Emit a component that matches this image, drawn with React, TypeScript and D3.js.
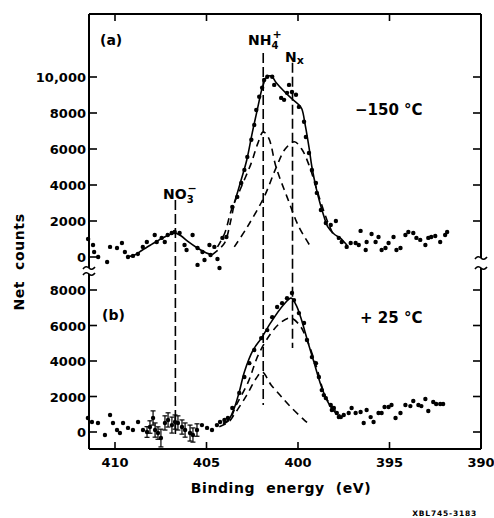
import React, { useEffect } from 'react';
import * as d3 from 'd3';

// binding energy (eV), counts
const energyTicks = [410, 405, 400, 395, 390];
const countTicksA = [0, 2000, 4000, 6000, 8000, 10000];
const countTicksB = [0, 2000, 4000, 6000, 8000];
const countLabel = (v: number) => (v >= 10000 ? '10,000' : String(v));

// panel (a) -150 C
const pointsA = [
  [411.47, 1000], [411.2, 670], [411.14, 280], [410.92, 0], [410.43, -280], [410.27, 560], [409.89, 500],
  [409.62, 780], [409.46, 280], [409.29, 0], [409.02, 60], [408.75, 170], [408.48, 560], [408.26, 830],
  [407.83, 1220], [407.72, 830], [407.45, 1060], [407.28, 830], [407.12, 1220], [406.9, 1330], [406.74, 1390],
  [406.47, 1330], [406.2, 670], [406.09, 390], [405.76, 1220], [405.49, 500], [405.49, -440], [405.22, 280],
  [405.11, -170], [404.78, 110], [404.57, 560], [404.4, -110], [404.29, -610], [404.13, 1060],
  [404.84, 670], [403.91, 1110], [403.59, 2780], [403.32, 3340], [403.1, 4110], [402.93, 4840],
  [402.77, 5560], [402.55, 6510], [402.39, 7340], [402.28, 8170], [402.12, 8900], [401.96, 9400], [401.85, 9840],
  [401.68, 10010], [401.41, 10010], [401.3, 9560], [400.92, 8840], [400.76, 8730], [400.6, 9120], [400.49, 9560],
  [400.33, 9170], [400.11, 9010], [399.95, 8340], [399.67, 7510], [399.57, 6670], [399.4, 5780], [399.24, 4840],
  [399.02, 4110], [398.97, 3560], [398.75, 2610], [398.48, 1890],
  [398.21, 1780], [397.93, 2000], [397.77, 1060], [397.61, 830], [397.34, 560], [397.12, 780], [396.85, 780],
  [396.68, 670], [396.58, 1450], [396.3, 390], [396.25, 830], [395.98, 1280], [395.76, 830], [395.6, 1110],
  [395.43, 390], [395.22, 500], [395.05, 780], [394.78, 1110], [394.62, 390], [394.4, 500], [394.13, 1220],
  [393.97, 1390], [393.7, 1330], [393.53, 1060], [393.32, 950], [393.04, 670], [392.88, 1060], [392.72, 1110],
  [392.5, 1170], [392.23, 830], [391.96, 1220], [391.85, 1390],
];
const no3FitA = [
  [409.35, 0], [408.9, 120], [408.5, 390], [408.0, 700], [407.5, 1000], [407.0, 1250], [406.74, 1330],
  [406.4, 1180], [406.0, 850], [405.5, 500], [405.0, 220], [404.7, 120],
];
const sumGapA = [[404.7, 120], [404.3, 450], [404.0, 800], [403.7, 1900], [403.48, 3000]];
const sumA = [
  [403.48, 3000], [403.1, 4300], [402.8, 5390], [402.5, 6900], [402.2, 8300], [401.95, 9400], [401.7, 10000],
  [401.45, 10050], [401.2, 9700], [400.8, 9250], [400.4, 8850], [400.0, 8500], [399.8, 8250], [399.6, 7300],
  [399.4, 6100], [399.24, 5000], [399.0, 3800], [398.8, 3000], [398.64, 2450], [398.37, 1670], [398.0, 1250],
  [397.7, 1060], [397.28, 600],
];
const nh4A = [
  [404.4, 560], [404.0, 1330], [403.64, 2610], [403.1, 3890], [402.55, 5230], [402.2, 6300], [401.9, 6950],
  [401.6, 6600], [401.2, 5000], [400.6, 3340], [399.95, 1670], [399.3, 560],
];
const nxA = [
  [403.48, 560], [402.77, 1670], [401.85, 3340], [401.2, 4950], [400.7, 6000], [400.2, 6400], [399.8, 6000],
  [399.4, 5110], [398.97, 3730], [398.42, 2060], [398.1, 1300],
];

// panel (b) +25 C, [energy, counts, error]
const pointsB = [
  [411.48, 790, 0], [411.26, 560, 0], [410.93, 510, 0], [410.55, -170, 0], [410.27, 960, 0], [410.11, 510, 0],
  [409.89, 110, 0], [409.73, -60, 0], [409.56, 510, 0], [409.29, 230, 0], [409.02, 110, 0], [408.74, 560, 0],
  [408.47, 110, 0], [408.25, 0, 300], [408.09, 280, 350], [407.92, 790, 400], [407.81, 110, 400], [407.65, -60, 350],
  [407.49, -340, 500], [407.27, 510, 400], [407.1, 680, 400], [406.89, 390, 450], [406.72, 560, 400],
  [406.56, 510, 400], [406.34, 280, 400], [406.17, 110, 400], [405.9, -60, 450], [405.74, -170, 400],
  [405.52, 110, 350], [405.25, 390, 0], [404.97, 230, 0], [404.7, 110, 0], [404.43, 390, 0], [404.26, 560, 0],
  [403.83, 790, 0],
  [404.02, 680, 0], [403.59, 1350, 0], [403.21, 2200, 0], [402.93, 3100, 0], [402.66, 3880, 0], [402.39, 4620, 0],
  [402.01, 5290, 0], [401.68, 5740, 0], [401.41, 6470, 0], [401.14, 7040, 0], [400.87, 7260, 0], [400.6, 7540, 0],
  [400.33, 7830, 0], [400.22, 7430, 0], [399.95, 6700, 0], [399.67, 6140, 0], [399.51, 5180, 0], [399.24, 4220, 0],
  [399.02, 3880, 0], [398.86, 3100, 0], [398.7, 2360, 0], [398.48, 1910, 0], [398.21, 1520, 0], [398.04, 1350, 0],
  [397.88, 1070, 0], [397.66, 840, 0],
  [398.59, 2080, 0], [398.15, 1240, 0], [397.77, 840, 0], [397.5, 960, 0], [397.23, 1070, 0], [397.07, 1350, 0],
  [396.85, 1070, 0], [396.58, 1130, 0], [396.41, 510, 0], [396.25, 1240, 0], [396.03, 840, 0], [395.87, 560, 0],
  [395.6, 1070, 0], [395.43, 1070, 0], [395.27, 1410, 0], [395.05, 1410, 0], [394.89, 1520, 0], [394.67, 790, 0],
  [394.4, 1070, 0], [394.13, 1520, 0], [393.86, 1460, 0], [393.7, 1750, 0], [393.42, 1520, 0], [393.26, 1460, 0],
  [393.04, 1860, 0], [392.88, 1180, 0], [392.61, 1690, 0], [392.45, 1580, 0], [392.23, 1580, 0], [392.07, 1580, 0],
];
const sumB = [
  [404.1, 500], [403.8, 680], [403.5, 1300], [403.2, 2300], [402.93, 3380], [402.45, 4620], [402.0, 5290],
  [401.47, 6190], [400.8, 7150], [400.38, 7540], [400.1, 7150], [399.84, 6420], [399.46, 5070], [399.13, 3940],
  [398.75, 2650], [398.4, 1750], [398.1, 1250], [397.75, 900],
];
const nh4B = [
  [404.3, 300], [403.8, 560], [403.5, 960], [402.8, 2080], [402.3, 3000], [401.96, 3380], [401.47, 2650],
  [401.0, 2100], [400.5, 1520], [399.67, 680], [399.4, 450],
];
const nxB = [
  [404.1, 450], [403.75, 680], [403.37, 1520], [402.72, 2820], [402.17, 4340], [401.47, 5570], [400.9, 6200],
  [400.38, 6420], [399.9, 6000], [399.55, 5300], [399.0, 3700], [398.5, 2000], [397.95, 1200], [397.7, 950],
];

// peak positions: energy, top in (a) counts, bottom in (b) counts
const markers = [
  { id: 'no3', energy: 406.7, topA: 3170, bottomB: -280 },
  { id: 'nh4', energy: 401.9, topA: 11340, bottomB: 1520 },
  { id: 'nx', energy: 400.3, topA: 10790, bottomB: 4730 },
];

const W = 494;
const H = 518;
const left = 89;
const right = 481;
const top = 14;
const bottom = 449;
const font = "'DejaVu Sans', sans-serif";

export default function App() {
  useEffect(() => {
    document.body.style.margin = '0';
  }, []);

  const x = d3.scaleLinear().domain([410, 390]).range([115, 481]);
  const yA = d3.scaleLinear().domain([0, 10000]).range([257, 77]);
  const yB = d3.scaleLinear().domain([0, 8000]).range([432, 290]);

  const lineA = d3.line<number[]>().x((d) => x(d[0])).y((d) => yA(d[1])).curve(d3.curveCatmullRom.alpha(0.5));
  const lineB = d3.line<number[]>().x((d) => x(d[0])).y((d) => yB(d[1])).curve(d3.curveCatmullRom.alpha(0.5));

  const dash = '7,5';
  const tilde = (cx: number, cy: number) =>
    `M${cx - 6},${cy + 1} q3,-4 6,-1 t6,-1`;

  return (
    <svg width={W} height={H} style={{ display: 'block', background: '#fff' }} fontFamily={font}>
      {/* frame */}
      <g stroke="#000" strokeWidth={2} fill="none">
        <line x1={left} x2={right} y1={top} y2={top} />
        <line x1={left} x2={right} y1={bottom} y2={bottom} />
        <line x1={left} x2={left} y1={top} y2={268} />
        <line x1={left} x2={left} y1={274} y2={bottom} />
        <line x1={right} x2={right} y1={top} y2={258} />
        <line x1={right} x2={right} y1={268} y2={bottom} />
        <path d={tilde(left, 268)} strokeWidth={1.6} />
        <path d={tilde(left, 274)} strokeWidth={1.6} />
        <path d={tilde(right, 258)} strokeWidth={1.6} />
        <path d={tilde(right, 268)} strokeWidth={1.6} />
      </g>

      {/* energy ticks */}
      <g stroke="#000" strokeWidth={1.6}>
        {energyTicks.slice(0, 4).map((e) => (
          <g key={e}>
            <line x1={x(e)} x2={x(e)} y1={bottom} y2={bottom - 7} />
            <line x1={x(e)} x2={x(e)} y1={top} y2={top + 7} />
          </g>
        ))}
      </g>
      <g fontSize={13} fontWeight="bold" textAnchor="middle">
        {energyTicks.map((e) => (
          <text key={e} x={x(e)} y={467}>{e}</text>
        ))}
      </g>

      {/* count ticks */}
      <g stroke="#000" strokeWidth={1.6}>
        {countTicksA.map((c) => (
          <line key={'la' + c} x1={left} x2={left + 8} y1={yA(c)} y2={yA(c)} />
        ))}
        {countTicksA.slice(1).map((c) => (
          <line key={'ra' + c} x1={right} x2={right - 8} y1={yA(c)} y2={yA(c)} />
        ))}
        {countTicksB.map((c) => (
          <g key={'b' + c}>
            <line x1={left} x2={left + 8} y1={yB(c)} y2={yB(c)} />
            <line x1={right} x2={right - 8} y1={yB(c)} y2={yB(c)} />
          </g>
        ))}
      </g>
      <g fontSize={13} fontWeight="bold" textAnchor="end">
        {countTicksA.map((c) => (
          <text key={'ta' + c} x={86} y={yA(c) + 5}>{countLabel(c)}</text>
        ))}
        {countTicksB.map((c) => (
          <text key={'tb' + c} x={86} y={yB(c) + 5}>{countLabel(c)}</text>
        ))}
      </g>

      {/* peak position lines */}
      <g stroke="#000" strokeWidth={1.6} strokeDasharray="10,4">
        {markers.map((m) => (
          <line key={m.id} x1={x(m.energy)} x2={x(m.energy)} y1={yA(m.topA)} y2={yB(m.bottomB)} />
        ))}
      </g>

      {/* fits */}
      <g fill="none" stroke="#000" strokeWidth={1.6}>
        <path d={lineA(no3FitA) || ''} />
        <path d={lineA(sumGapA) || ''} strokeDasharray={dash} />
        <path d={lineA(sumA) || ''} />
        <path d={lineA(nh4A) || ''} strokeDasharray={dash} />
        <path d={lineA(nxA) || ''} strokeDasharray={dash} />
        <path d={lineB(sumB) || ''} />
        <path d={lineB(nh4B) || ''} strokeDasharray={dash} />
        <path d={lineB(nxB) || ''} strokeDasharray={dash} />
      </g>

      {/* data */}
      <g fill="#000">
        {pointsA.map((d, i) => (
          <circle key={'pa' + i} cx={x(d[0])} cy={yA(d[1])} r={2.2} />
        ))}
        {pointsB.map((d, i) => (
          <circle key={'pb' + i} cx={x(d[0])} cy={yB(d[1])} r={2.2} />
        ))}
      </g>
      <g stroke="#000" strokeWidth={1.2}>
        {pointsB.filter((d) => d[2] > 0).map((d, i) => {
          const cx = x(d[0]);
          const y1 = yB(d[1] - d[2]);
          const y2 = yB(d[1] + d[2]);
          return (
            <g key={'eb' + i}>
              <line x1={cx} x2={cx} y1={y1} y2={y2} />
              <line x1={cx - 2.5} x2={cx + 2.5} y1={y1} y2={y1} />
              <line x1={cx - 2.5} x2={cx + 2.5} y1={y2} y2={y2} />
            </g>
          );
        })}
      </g>

      {/* labels */}
      <g fontWeight="bold" fill="#000">
        <text x={100} y={45} fontSize={14}>(a)</text>
        <text x={102} y={320} fontSize={14}>(b)</text>
        <text x={355} y={115} fontSize={15}>−150 °C</text>
        <text x={360} y={323} fontSize={15}>+ 25 °C</text>
        <text x={163} y={199} fontSize={14}>
          NO<tspan fontSize={10} dy={4}>3</tspan>
          <tspan fontSize={11} dx={-6} dy={-11}>−</tspan>
        </text>
        <text x={248} y={45} fontSize={14}>
          NH<tspan fontSize={10} dy={4}>4</tspan>
          <tspan fontSize={11} dx={-6} dy={-11}>+</tspan>
        </text>
        <text x={285} y={62} fontSize={14}>
          N<tspan fontSize={11} dy={2}>x</tspan>
        </text>
        <text x={281} y={493} fontSize={14} textAnchor="middle" letterSpacing={0.6} xmlSpace="preserve">
          Binding  energy  (eV)
        </text>
        <text transform="translate(24,262) rotate(-90)" fontSize={14} textAnchor="middle" letterSpacing={0.6} xmlSpace="preserve">
          Net  counts
        </text>
        <text x={477} y={516} fontSize={7.5} textAnchor="end" letterSpacing={0.8}>XBL745-3183</text>
      </g>
    </svg>
  );
}
